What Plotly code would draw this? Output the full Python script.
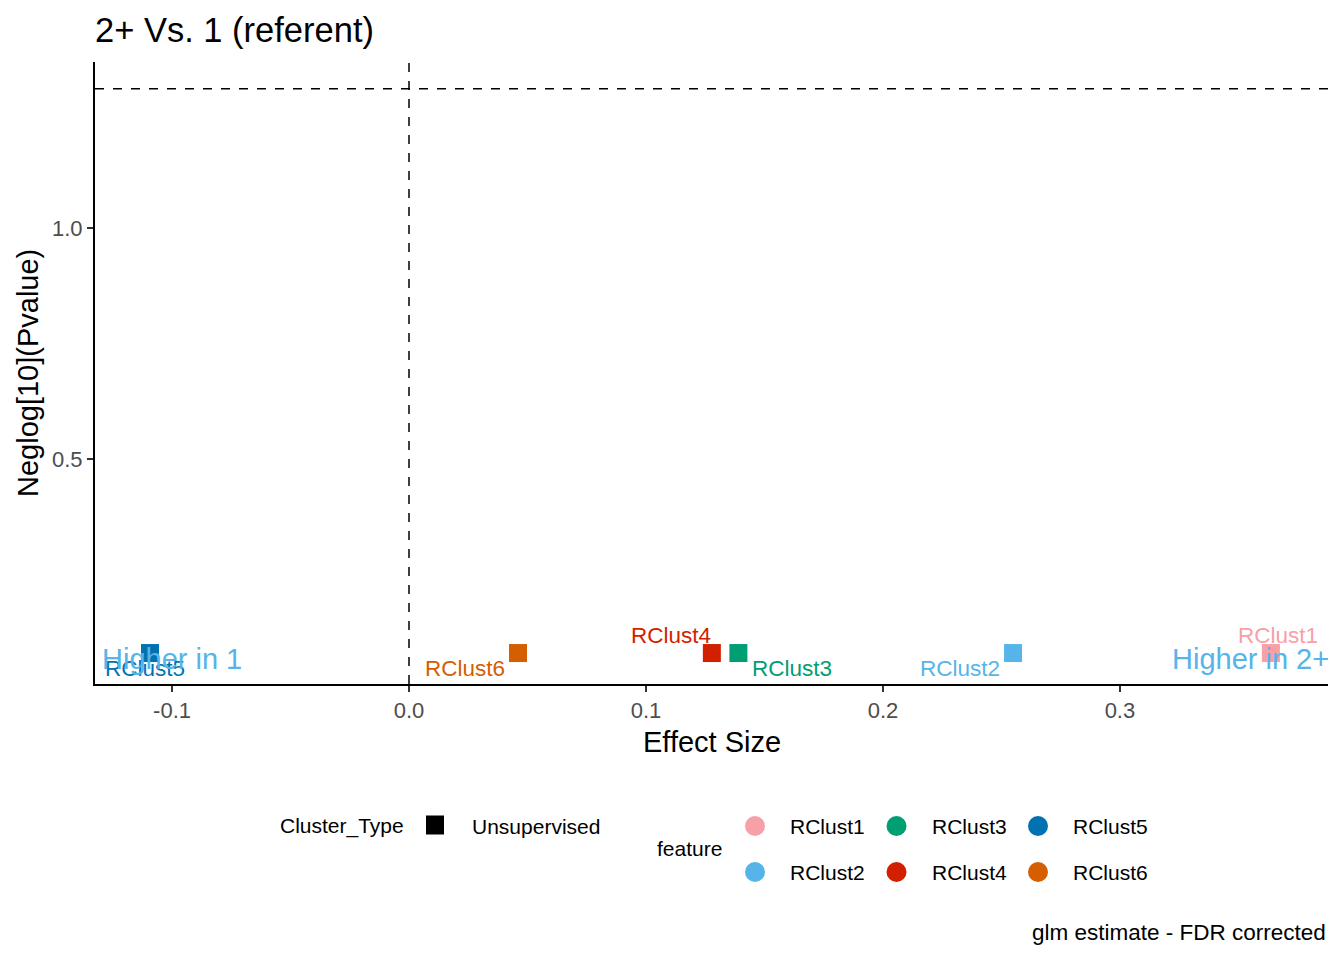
import numpy as np
import plotly.graph_objects as go

# data
features = ["RClust1", "RClust2", "RClust3", "RClust4", "RClust5", "RClust6"]
effect_size = [0.3637, 0.2549, 0.1390, 0.1278, -0.1093, 0.0460]
neglog_p = [0.080, 0.080, 0.080, 0.080, 0.080, 0.080]
cluster_type = ["Unsupervised"] * 6
colors = ["#F8A0A8", "#56B4E9", "#009E73", "#D21F00", "#0072B2", "#D55E00"]

sig_line = -np.log10(0.05)
side_labels = ["Higher in 1", "Higher in 2+"]
side_x = [-0.1, 0.355]
side_y = [0.068, 0.068]

# label nudges in pixels (ggrepel placement)
label_shift = {
    "RClust1": (7, 18), "RClust2": (-53, -15), "RClust3": (54, -15),
    "RClust4": (-41, 18), "RClust5": (-5, -15), "RClust6": (-53, -15),
}

W, H = 1344, 960
OFF = 8  # page body margin
L, T = 95 - OFF, 62 - OFF
R = W - L - 1233
B = H - T - 622
FONT = "Liberation Sans, Arial, sans-serif"


def px(xp):
    return (xp - OFF - L) / (W - L - R)


def py(yp):
    return (H - B - (yp - OFF)) / (H - T - B)


def note(xp, yp, text, size, anchor="left", **kw):
    return dict(x=px(xp), y=py(yp), xref="paper", yref="paper", text=text,
                showarrow=False, xanchor=anchor, yanchor="middle",
                font=dict(size=size, color="black", family=FONT), **kw)


fig = go.Figure()

for f, x, y, c in zip(features, effect_size, neglog_p, colors):
    fig.add_trace(go.Scatter(
        x=[x], y=[y], mode="markers", name=f,
        marker=dict(symbol="square", size=18, color=c),
        showlegend=False, hoverinfo="x+y+name",
    ))

ann = []
for f, x, y, c in zip(features, effect_size, neglog_p, colors):
    dx, dy = label_shift[f]
    ann.append(dict(x=x, y=y, xref="x", yref="y", text=f, showarrow=False,
                    xshift=dx, yshift=dy, font=dict(size=22.5, color=c, family=FONT)))

for t, x, y in zip(side_labels, side_x, side_y):
    ann.append(dict(x=x, y=y, xref="x", yref="y", text=t, showarrow=False,
                    font=dict(size=29, color="#56B4E9", family=FONT)))

# axis titles
ann.append(note(712, 742, "Effect Size", 29, anchor="center"))
ann.append(note(28, 373, "Neglog[10](Pvalue)", 29, anchor="center", textangle=-90))

# hand-built legend like ggplot's bottom legend
shapes = []
ann.append(note(278, 826, "Cluster_Type", 21))
shapes.append(dict(type="rect", xref="paper", yref="paper", xsizemode="pixel", ysizemode="pixel",
                   xanchor=px(435), yanchor=py(825), x0=-9, x1=9, y0=-9.5, y1=9.5,
                   fillcolor="black", line=dict(width=0)))
ann.append(note(470, 826, cluster_type[0], 21))
ann.append(note(655, 849, "feature", 21))
for i, (f, c) in enumerate(zip(features, colors)):
    col, row = i // 2, i % 2
    cx = 755 + col * 141.5
    cy = 826 + row * 46
    shapes.append(dict(type="circle", xref="paper", yref="paper", xsizemode="pixel",
                       ysizemode="pixel", xanchor=px(cx), yanchor=py(cy),
                       x0=-10, x1=10, y0=-10, y1=10, fillcolor=c, line=dict(width=0)))
    ann.append(note(cx + 33, cy, f, 21))

ann.append(note(1328, 933, "glm estimate - FDR corrected", 22.5, anchor="right"))

fig.update_layout(
    width=W, height=H,
    margin=dict(l=L, r=R, t=T, b=B, autoexpand=False),
    paper_bgcolor="white", plot_bgcolor="white",
    font=dict(family=FONT),
    title=dict(text="2+ Vs. 1 (referent)", x=0, xref="paper", xanchor="left",
               y=1 - (30 - OFF) / H, yref="container", yanchor="middle",
               font=dict(size=34.5, color="black", family=FONT)),
    annotations=ann,
    shapes=shapes,
    showlegend=False,
)
fig.update_xaxes(
    range=[-0.1325, 0.3878], tickvals=[-0.1, 0.0, 0.1, 0.2, 0.3],
    ticktext=["-0.1", "0.0", "0.1", "0.2", "0.3"], automargin=False,
    showgrid=False, zeroline=False, showline=True, linecolor="black", linewidth=2,
    ticks="outside", ticklen=6, tickcolor="#333333", tickwidth=1.5,
    tickfont=dict(size=22, color="#4D4D4D"),
)
fig.update_yaxes(
    range=[0.013, 1.359], tickvals=[0.5, 1.0], ticktext=["0.5", "1.0"], automargin=False,
    showgrid=False, zeroline=False, showline=True, linecolor="black", linewidth=2,
    ticks="outside", ticklen=6, tickcolor="#333333", tickwidth=1.5,
    tickfont=dict(size=22, color="#4D4D4D"),
)

fig.add_vline(x=0, line=dict(color="black", dash="dash", width=1.5))
fig.add_hline(y=sig_line, line=dict(color="black", dash="dash", width=1.5))

fig.write_html("out.html")
